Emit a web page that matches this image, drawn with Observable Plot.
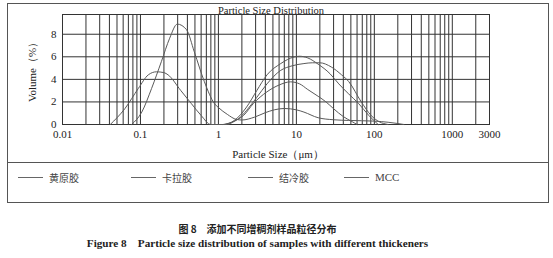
<!DOCTYPE html>
<html>
<head>
<meta charset="utf-8">
<script src="https://cdn.jsdelivr.net/npm/d3@7"></script>
<script src="https://cdn.jsdelivr.net/npm/@observablehq/plot@0.6"></script>
<style>
  html, body { margin: 0; padding: 0; background: #fff; }
  body { width: 553px; height: 258px; position: relative; overflow: hidden; }
  #box { position: absolute; left: 7px; top: 3px; width: 540px; border: 1px solid #555; }
  #chart svg { display: block; }
  #legend { position: relative; height: 39px; border-top: 1px solid #555; }
  .item { position: absolute; top: 7px; display: flex; align-items: center; height: 14px;
          font-family: "Noto Sans CJK SC", sans-serif; font-size: 10px; color: #444; }
  .item .sw { display: inline-block; width: 25px; height: 0; border-top: 1px solid #666; margin-right: 6px; }
  .item.latin { font-family: "Liberation Serif", serif; font-size: 11px; }
  .cap { position: absolute; left: 0; width: 515px; text-align: center; white-space: pre; color: #222; font-weight: bold; line-height: 12px; }
  #capZh { top: 223px; font-family: "Noto Sans CJK SC", sans-serif; font-size: 10px; }
  #capEn { top: 237px; font-family: "Liberation Serif", serif; font-size: 11.2px; }
</style>
</head>
<body>
<div id="box">
  <div id="chart"></div>
  <div id="legend"></div>
</div>
<div class="cap" id="capZh">图 8　添加不同增稠剂样品粒径分布</div>
<div class="cap" id="capEn">Figure 8    Particle size distribution of samples with different thickeners</div>
<script>
// ---- data ----
const seriesNames = ["黄原胶", "卡拉胶", "结冷胶", "MCC"];

const xanthanX = [0.077, 0.104, 0.139, 0.186, 0.237, 0.297, 0.39, 0.49, 0.66, 0.89, 1.0, 1.3, 1.7, 2.0, 2.9, 4.0, 5.2, 7.0, 10, 12.5, 19, 30, 47, 100, 150, 240];
const xanthanY = [0, 1.1, 3.2, 5.6, 7.65, 8.9, 8.4, 6.45, 3.8, 1.85, 1.5, 0.9, 0.45, 0.4, 0.65, 1.05, 1.3, 1.42, 1.3, 1.1, 0.6, 0.42, 0.36, 0.3, 0.2, 0];

const carrageenanX = [0.041, 0.063, 0.094, 0.126, 0.16, 0.2, 0.226, 0.33, 0.45, 0.6, 0.8, 1.3, 1.6, 2.1, 2.8, 4.2, 6.0, 8.4, 11, 14, 19, 24, 30, 40, 52, 60];
const carrageenanY = [0, 1.4, 3.2, 4.4, 4.67, 4.6, 4.4, 3.0, 1.85, 0.8, 0, 0, 0.3, 0.8, 1.85, 2.9, 3.5, 3.78, 3.6, 3.1, 2.5, 2.0, 1.4, 0.7, 0.25, 0];

const gellanX = [1.15, 1.6, 2.3, 3.1, 4.2, 6.3, 9.3, 11, 14, 19, 27, 35, 47, 63, 85, 112];
const gellanY = [0, 0.36, 1.55, 3.0, 4.4, 5.4, 5.98, 6.05, 5.9, 5.35, 4.5, 3.6, 2.7, 1.85, 0.8, 0];

const mccX = [1.2, 1.8, 2.3, 3.1, 4.2, 6.3, 8.8, 12.5, 16, 20, 28, 38, 47, 68, 91, 115, 150];
const mccY = [0, 0.5, 1.25, 2.4, 3.6, 4.8, 5.2, 5.4, 5.47, 5.47, 5.1, 4.4, 3.8, 2.0, 0.8, 0.25, 0];

const xTickLabels = [0.01, 0.1, 1, 10, 100, 1000, 3000];
const yTickLabels = [0, 2, 4, 6, 8];
const titleText = "Particle Size Distribution";
const xLabelText = "Particle Size（μm）";
const yLabelText = "Volume（%）";

// ---- build table ----
const seriesXY = [[xanthanX, xanthanY], [carrageenanX, carrageenanY], [gellanX, gellanY], [mccX, mccY]];
const rows = [];
seriesXY.forEach(([xs, ys], i) => xs.forEach((x, j) => rows.push({series: seriesNames[i], x, y: ys[j]})));

// log grid lines: 1..9 × each decade, up to 3000
const gridX = [];
for (let e = -2; e <= 3; e++) for (let m = 1; m <= 9; m++) { const v = +(m * Math.pow(10, e)).toPrecision(3); if (v <= 3000) gridX.push(v); }

const chart = Plot.plot({
  width: 540,
  height: 158,
  marginLeft: 54,
  marginRight: 59,
  marginTop: 10,
  marginBottom: 38,
  style: {fontFamily: "Liberation Serif, serif", fontSize: "11px", color: "#222", background: "white", overflow: "visible"},
  x: {type: "log", domain: [0.01, 3000], label: null, axis: null},
  y: {domain: [0, 9.75], label: null},
  marks: [
    Plot.ruleX(gridX, {stroke: "#333", strokeWidth: 1}),
    Plot.ruleY(yTickLabels, {stroke: "#333", strokeWidth: 1}),
    Plot.frame({stroke: "#333"}),
    Plot.line(rows, {x: "x", y: "y", z: "series", stroke: "#5a5a5a", strokeWidth: 1, curve: "monotone-x"}),
    // x tick labels through the x scale
    Plot.text(xTickLabels, {x: d => d, frameAnchor: "bottom", lineAnchor: "top", dy: 6, text: d => String(d), fontSize: 11, fill: "#222"}),
    Plot.axisY(yTickLabels, {tickSize: 0, tickPadding: 6, fontSize: 11, label: yLabelText, labelAnchor: "center", labelOffset: 34, labelArrow: "none"}),
    Plot.text([titleText], {frameAnchor: "top", lineAnchor: "bottom", textAnchor: "middle", dy: -1, dx: -5, fontSize: 10.5, fill: "#222"}),
    Plot.text([xLabelText], {frameAnchor: "bottom", lineAnchor: "middle", textAnchor: "middle", dy: 30, dx: 2, fontSize: 11, fill: "#222"})
  ]
});
document.getElementById("chart").appendChild(chart);

// ---- legend ----
const legendLeft = [10, 123, 240, 336];
const legend = document.getElementById("legend");
seriesNames.forEach((name, i) => {
  const it = document.createElement("div");
  it.className = "item" + (/^[A-Za-z]/.test(name) ? " latin" : "");
  it.style.left = legendLeft[i] + "px";
  const sw = document.createElement("span"); sw.className = "sw";
  const tx = document.createElement("span"); tx.textContent = name;
  it.appendChild(sw); it.appendChild(tx);
  legend.appendChild(it);
});
</script>
</body>
</html>
